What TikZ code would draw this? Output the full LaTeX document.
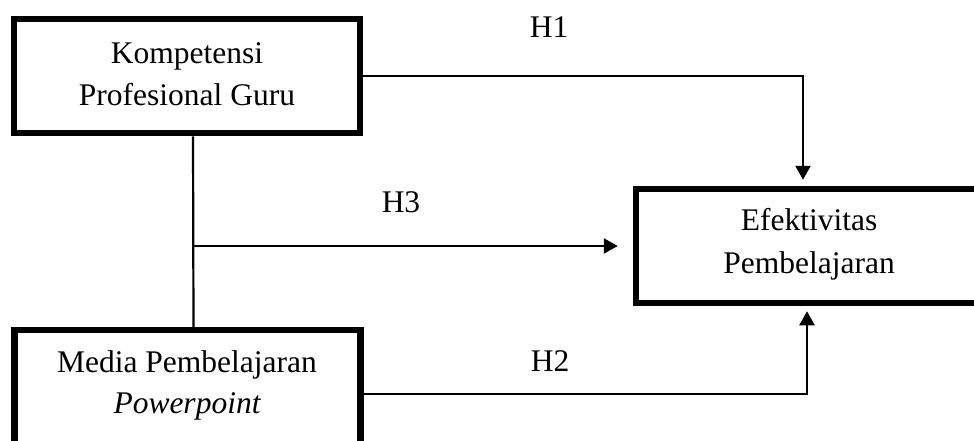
\documentclass[tikz,border=0pt]{standalone}
\usepackage{fontspec}
\setmainfont{Liberation Serif}
\usetikzlibrary{arrows.meta}
\begin{document}
\begin{tikzpicture}[x=1pt,y=-1pt,
  varbox/.style={draw=black,line width=6.5pt,rectangle,inner sep=0pt,
    minimum width=346pt,minimum height=114pt},
  txt/.style={inner sep=0pt,anchor=base,font=\fontsize{31.5}{38}\selectfont},
  conn/.style={draw=black,line width=2.2pt},
  arr/.style={conn,-{Triangle[length=14pt,width=15pt]}}]
  \useasboundingbox (0,0) rectangle (974,440);
  \begin{scope}
  \clip (0,0) rectangle (974,440);
  % variable boxes
  \node[varbox] (kpg) at (187,76) {};
  \node[varbox] (media) at (187.5,387) {};
  \node[varbox] (eff) at (809,246) {};
  % box texts
  \node[txt] (kpg1) at (187,63) {Kompetensi};
  \node[txt] (kpg2) at (187,105) {Profesional Guru};
  \node[txt] (media1) at (187,372) {Media Pembelajaran};
  \node[txt] (media2) at (187,413) {\itshape Powerpoint};
  \node[txt] (eff1) at (809,230) {Efektivitas};
  \node[txt] (eff2) at (809,273) {Pembelajaran};
  % hypothesis labels
  \node[txt] (h1) at (549,37) {H1};
  \node[txt] (h3) at (401,212) {H3};
  \node[txt] (h2) at (550,371) {H2};
  % connectors
  \draw[arr] (kpg.east) -| ([xshift=-6pt,yshift=6pt]eff.north);
  \draw[arr] ([yshift=-7pt]media.east) -| ([xshift=-2pt,yshift=-5pt]eff.south);
  \draw[conn] ([xshift=6pt]kpg.south) -- ([xshift=6pt]media.north);
  \coordinate (h3s) at (194,246);
  \draw[arr] (h3s) -- ([xshift=-15pt]eff.west);
  \end{scope}
\end{tikzpicture}
\end{document}
